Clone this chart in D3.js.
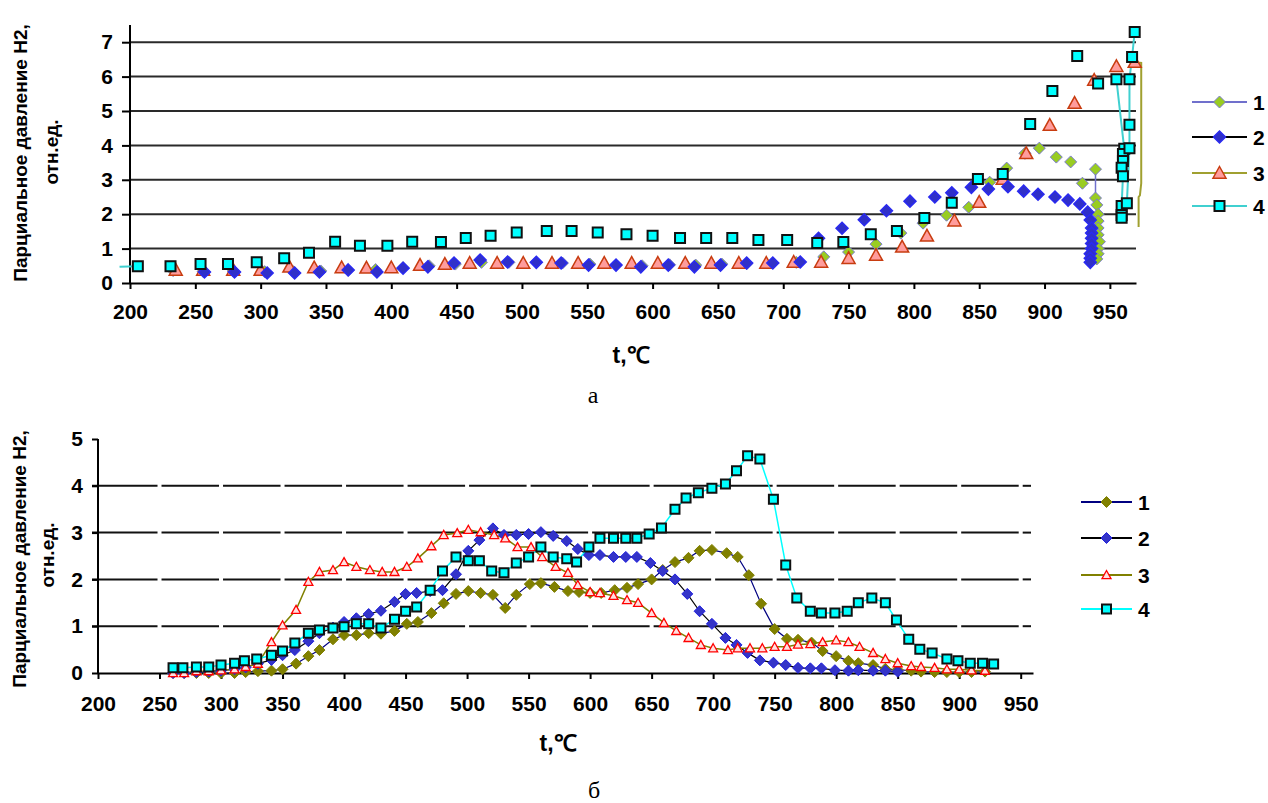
<!DOCTYPE html>
<html lang="ru">

<head>
    <meta charset="UTF-8">
    <title>Парциальное давление H2</title>
    <style>
        html,
        body {
            margin: 0;
            padding: 0;
            background: #fff;
            overflow: hidden;
        }

        text {
            font-family: 'Liberation Sans', Arial, sans-serif;
            font-weight: bold;
            fill: #000;
        }

        text.caption {
            font-family: 'Liberation Serif', 'Times New Roman', serif;
            font-weight: normal;
        }
    </style>
</head>

<body>
    <script src="https://cdn.jsdelivr.net/npm/d3@7"></script>
    <script>

        // ---------- data ----------
        const seriesNames = ['1', '2', '3', '4']
        const xTickLabels = [200, 250, 300, 350, 400, 450, 500, 550, 600, 650, 700, 750, 800, 850, 900, 950]
        const topYTicks = [0, 1, 2, 3, 4, 5, 6, 7]
        const botYTicks = [0, 1, 2, 3, 4, 5]

        // panel a: [t, p]
        const topS1 = [[233, 0.36], [256, 0.34], [279, 0.35], [303, 0.33], [325, 0.33], [346, 0.35], [367, 0.37], [388, 0.39],
        [409, 0.45], [429, 0.5], [449, 0.55], [469, 0.6], [490, 0.6], [511, 0.6], [531, 0.58], [552, 0.55], [572, 0.52],
        [592, 0.5], [613, 0.53], [633, 0.52], [653, 0.55], [672, 0.56], [692, 0.58], [710, 0.6], [731, 0.76], [750, 0.9],
        [771, 1.13], [790, 1.45], [807, 1.74], [825, 1.97], [842, 2.2], [858, 2.93], [871, 3.34], [885, 3.77], [896, 3.92],
        [909, 3.66], [920, 3.52], [929, 2.9]]
        const topS1Tail = [[939, 3.31], [939, 2.47], [940, 2.27], [941, 2.0], [941, 1.8], [941, 1.6], [941, 1.4], [942, 1.2],
        [941, 1.0], [941, 0.85], [940, 0.7]]

        const topS2 = [[257, 0.32], [280, 0.32], [305, 0.29], [326, 0.29], [345, 0.32], [367, 0.38], [389, 0.32], [409, 0.43],
        [428, 0.47], [448, 0.58], [468, 0.67], [489, 0.61], [511, 0.6], [530, 0.58], [551, 0.52], [572, 0.52], [591, 0.47],
        [612, 0.52], [632, 0.47], [652, 0.52], [672, 0.58], [692, 0.58], [713, 0.61], [727, 1.3], [745, 1.59], [762, 1.84],
        [779, 2.1], [797, 2.38], [816, 2.5], [829, 2.62], [844, 2.78], [857, 2.73], [872, 2.8], [884, 2.67], [895, 2.58],
        [908, 2.5], [918, 2.41], [927, 2.3], [933, 2.06], [935, 1.83], [936, 1.6], [936, 1.45], [936, 1.3], [936, 1.15],
        [936, 1.0], [935, 0.85], [935, 0.72], [935, 0.6]]

        const topS3 = [[235, 0.38], [256, 0.38], [279, 0.38], [300, 0.38], [322, 0.47], [341, 0.45], [362, 0.45], [381, 0.44],
        [400, 0.45], [422, 0.52], [441, 0.55], [460, 0.58], [481, 0.58], [501, 0.58], [523, 0.58], [543, 0.58], [563, 0.58],
        [584, 0.58], [604, 0.58], [625, 0.58], [645, 0.58], [666, 0.58], [687, 0.58], [708, 0.61], [729, 0.61], [750, 0.72],
        [771, 0.81], [791, 1.05], [810, 1.37], [831, 1.81], [850, 2.35], [868, 3.02], [886, 3.77], [904, 4.59], [923, 5.23],
        [938, 5.9], [955, 6.3], [969, 6.42]]
        const topS3Tail = [[969, 6.42], [974, 6.4], [974, 2.9], [973, 2.55], [972, 2.5], [972, 1.63]]

        const topS4 = [[206, 0.49], [231, 0.49], [254, 0.55], [275, 0.55], [297, 0.6], [318, 0.72], [337, 0.88], [357, 1.2],
        [376, 1.08], [397, 1.08], [416, 1.2], [438, 1.19], [457, 1.31], [476, 1.37], [496, 1.47], [519, 1.51], [538, 1.51],
        [558, 1.47], [580, 1.42], [600, 1.37], [621, 1.31], [641, 1.31], [661, 1.31], [681, 1.25], [703, 1.25], [726, 1.16],
        [746, 1.19], [767, 1.42], [787, 1.51], [808, 1.89], [829, 2.33], [849, 3.02], [868, 3.17], [889, 4.62], [906, 5.58],
        [925, 6.6], [941, 5.8]]
        const topS4Lead = [[192, 0.47], [206, 0.49]]
        const topS4Tail = [[955, 5.92], [961, 3.9], [960, 3.75], [960, 3.55], [959, 3.35], [960, 3.1], [959, 2.24], [959, 1.98],
        [959, 1.9], [963, 2.32], [965, 3.92], [965, 4.6], [965, 5.92], [967, 6.57], [969, 7.3]]

        // panel б: [t, p]
        const botS1 = [[261, 0], [270, 0], [280, 0], [290, 0], [300, 0], [311, 0], [320, 0.02], [330, 0.04], [341, 0.05],
        [350, 0.08], [361, 0.2], [371, 0.36], [380, 0.49], [391, 0.72], [400, 0.81], [410, 0.81], [420, 0.85], [430, 0.84],
        [441, 0.9], [451, 1.05], [460, 1.09], [471, 1.28], [481, 1.49], [491, 1.69], [501, 1.75], [511, 1.71], [521, 1.67],
        [531, 1.39], [540, 1.67], [551, 1.9], [560, 1.92], [571, 1.84], [582, 1.75], [591, 1.73], [600, 1.71], [609, 1.71],
        [620, 1.77], [630, 1.82], [639, 1.9], [650, 2.0], [659, 2.2], [669, 2.37], [680, 2.46], [689, 2.61], [699, 2.63],
        [711, 2.56], [720, 2.48], [729, 2.09], [739, 1.48], [750, 0.94], [760, 0.73], [769, 0.71], [780, 0.65], [789, 0.47],
        [800, 0.36], [810, 0.26], [818, 0.21], [830, 0.17], [840, 0.09], [850, 0.07], [861, 0.05], [869, 0.03], [880, 0.02],
        [890, 0.02], [900, 0.02], [910, 0.02], [921, 0.03]]

        const botS2 = [[261, 0], [270, 0], [280, 0.02], [290, 0.03], [300, 0.05], [311, 0.08], [320, 0.12], [330, 0.2],
        [341, 0.28], [350, 0.38], [360, 0.49], [371, 0.68], [380, 0.85], [391, 0.97], [400, 1.09], [410, 1.17], [420, 1.26],
        [430, 1.33], [441, 1.52], [450, 1.69], [459, 1.71], [470, 1.75], [480, 1.77], [491, 2.11], [501, 2.61], [510, 2.84],
        [521, 3.09], [530, 2.95], [540, 2.95], [550, 2.97], [560, 3.01], [570, 2.93], [581, 2.82], [590, 2.65], [599, 2.52],
        [608, 2.52], [619, 2.48], [629, 2.48], [638, 2.48], [649, 2.35], [659, 2.18], [669, 2.0], [679, 1.69], [689, 1.32],
        [699, 1.05], [710, 0.75], [719, 0.6], [728, 0.43], [738, 0.27], [749, 0.22], [759, 0.17], [769, 0.11], [779, 0.1],
        [788, 0.1], [799, 0.06], [810, 0.05], [818, 0.06], [830, 0.05], [840, 0.05], [850, 0.03]]

        const botS3 = [[261, 0], [270, 0], [280, 0.04], [290, 0.04], [300, 0.06], [311, 0.08], [320, 0.13], [330, 0.2],
        [341, 0.66], [350, 1.02], [361, 1.35], [371, 1.95], [380, 2.16], [391, 2.2], [400, 2.37], [410, 2.27], [421, 2.2],
        [431, 2.16], [441, 2.16], [451, 2.27], [460, 2.45], [471, 2.71], [481, 2.95], [492, 2.99], [501, 3.06], [511, 3.01],
        [522, 2.95], [531, 2.88], [541, 2.69], [552, 2.69], [561, 2.48], [572, 2.27], [582, 2.14], [590, 1.88], [600, 1.73],
        [608, 1.71], [619, 1.65], [630, 1.56], [639, 1.5], [650, 1.28], [660, 1.07], [670, 0.9], [680, 0.75], [690, 0.6],
        [700, 0.53], [712, 0.49], [720, 0.53], [730, 0.53], [740, 0.53], [750, 0.56], [760, 0.56], [769, 0.61], [779, 0.62],
        [789, 0.66], [800, 0.7], [810, 0.66], [819, 0.56], [830, 0.43], [840, 0.3], [850, 0.21], [861, 0.15], [869, 0.13],
        [880, 0.11], [890, 0.08], [900, 0.08], [910, 0.06], [921, 0.05]]

        const botS4 = [[261, 0.11], [269, 0.11], [280, 0.13], [290, 0.13], [300, 0.17], [311, 0.21], [319, 0.26], [329, 0.3],
        [341, 0.38], [350, 0.47], [360, 0.64], [371, 0.85], [380, 0.92], [391, 0.96], [400, 0.99], [410, 1.05], [420, 1.05],
        [430, 0.96], [441, 1.15], [450, 1.32], [459, 1.41], [470, 1.77], [480, 2.18], [491, 2.48], [501, 2.4], [510, 2.4],
        [520, 2.18], [530, 2.14], [540, 2.35], [550, 2.48], [560, 2.69], [570, 2.48], [581, 2.44], [589, 2.37], [599, 2.69],
        [608, 2.88], [619, 2.88], [629, 2.88], [638, 2.88], [648, 2.97], [658, 3.1], [669, 3.5], [678, 3.74], [688, 3.85],
        [699, 3.95], [710, 4.04], [719, 4.32], [728, 4.64], [738, 4.57], [749, 3.71], [759, 2.31], [768, 1.6], [779, 1.32],
        [788, 1.28], [799, 1.28], [809, 1.32], [818, 1.5], [829, 1.6], [840, 1.5], [849, 1.13], [859, 0.72], [868, 0.51],
        [878, 0.43], [890, 0.3], [899, 0.26], [909, 0.21], [919, 0.21], [928, 0.19]]

        // ---------- page ----------
        const width = 1268
        const height = 803

        const svg = d3.select('body')
            .append('svg')
            .attr('width', width)
            .attr('height', height)

        function markerPath(shape, r) {
            if (shape === 'diamond') return `M0,${-r}L${r},0L0,${r}L${-r},0Z`
            if (shape === 'triangle') return `M0,${-r}L${r},${r * 0.8}L${-r},${r * 0.8}Z`
            return `M${-r},${-r}H${r}V${r}H${-r}Z`
        }

        function drawMarkers(g, pts, x, y, s) {
            g.append('g')
                .selectAll('path')
                .data(pts)
                .enter()
                .append('path')
                .attr('transform', (d) => `translate(${x(d[0])},${y(d[1])})`)
                .attr('d', markerPath(s.shape, s.r))
                .attr('fill', s.fill)
                .attr('stroke', s.stroke)
                .attr('stroke-width', s.sw)
        }

        function drawPanel(p) {
            const { x, y } = p
            const g = svg.append('g')
            const line = d3.line().x((d) => x(d[0])).y((d) => y(d[1]))

            // gridlines
            if (p.brokenGrid) {
                const edges = xTickLabels.concat([x.domain()[1]])
                const segs = []
                p.yTicks.filter((v) => v > 0 && v < y.domain()[1]).forEach((v) => {
                    for (let i = 0; i < edges.length - 1; i++) segs.push({ v, a: edges[i], b: edges[i + 1], first: i === 0 })
                })
                g.selectAll('.grid')
                    .data(segs)
                    .enter()
                    .append('line')
                    .attr('class', 'grid')
                    .attr('x1', (d) => d.first ? x(d.a) - 6 : x(d.a) + 2)
                    .attr('x2', (d) => x(d.b) - 2)
                    .attr('y1', (d) => y(d.v))
                    .attr('y2', (d) => y(d.v))
                    .attr('stroke', '#111')
                    .attr('stroke-width', 2)
            } else {
                g.selectAll('.grid')
                    .data(p.yTicks.filter((v) => v > 0))
                    .enter()
                    .append('line')
                    .attr('class', 'grid')
                    .attr('x1', x.range()[0])
                    .attr('x2', x.range()[1])
                    .attr('y1', (d) => y(d))
                    .attr('y2', (d) => y(d))
                    .attr('stroke', '#2a2a2a')
                    .attr('stroke-width', 2)
            }

            // axes
            const xAxis = g.append('g')
                .attr('transform', `translate(0,${y(0)})`)
                .call(d3.axisBottom(x).tickValues(xTickLabels).tickFormat(d3.format('d'))
                    .tickSize(6).tickPadding(p.xPad).tickSizeOuter(0))
            const yAxis = g.append('g')
                .attr('transform', `translate(${x.range()[0]},0)`)
                .call(d3.axisLeft(y).tickValues(p.yTicks).tickFormat(d3.format('d'))
                    .tickSize(p.yTickSize).tickPadding(9).tickSizeOuter(0))
            for (const ax of [xAxis, yAxis]) {
                ax.attr('font-family', null).attr('font-size', null)
                ax.select('.domain').attr('stroke', '#000').attr('stroke-width', 2)
                ax.selectAll('.tick line').attr('stroke', '#000').attr('stroke-width', 2)
                ax.selectAll('.tick text').style('font-size', '21px')
            }
            yAxis.select('.domain').attr('d', `M0,${y.range()[0]}V${y.range()[1]}`)

            // lines, then markers
            p.series.forEach((s) => {
                s.lines.forEach((ln) => {
                    g.append('path')
                        .attr('d', line(ln))
                        .attr('fill', 'none')
                        .attr('stroke', s.line)
                        .attr('stroke-width', s.lw)
                })
            })
            p.order.forEach((i) => {
                const s = p.series[i]
                s.marks.forEach((m) => drawMarkers(g, m, x, y, s))
            })

            // legend
            const leg = g.append('g')
            p.series.forEach((s, i) => {
                const ly = p.legend.y[i]
                leg.append('line')
                    .attr('x1', p.legend.x1).attr('x2', p.legend.x2)
                    .attr('y1', ly).attr('y2', ly)
                    .attr('stroke', s.line).attr('stroke-width', 2)
                leg.append('path')
                    .attr('transform', `translate(${(p.legend.x1 + p.legend.x2) / 2},${ly})`)
                    .attr('d', markerPath(s.shape, s.r))
                    .attr('fill', s.fill).attr('stroke', s.stroke).attr('stroke-width', s.sw)
                leg.append('text')
                    .attr('x', p.legend.x2 + 6)
                    .attr('y', ly)
                    .attr('dy', '0.36em')
                    .style('font-size', '21px')
                    .text(seriesNames[i])
            })

            // titles
            p.yTitle.forEach((t) => {
                g.append('text')
                    .attr('transform', `translate(${t.x},${t.y}) rotate(-90)`)
                    .attr('text-anchor', 'middle')
                    .style('font-size', '19px')
                    .text(t.text)
            })
            g.append('text')
                .attr('x', p.xTitle.x).attr('y', p.xTitle.y)
                .attr('text-anchor', 'middle')
                .style('font-size', '23px')
                .text('t,℃')
            g.append('text')
                .attr('class', 'caption')
                .attr('x', p.caption.x).attr('y', p.caption.y)
                .attr('text-anchor', 'middle')
                .style('font-size', '24px')
                .text(p.caption.text)
        }

        // ---------- panel a ----------
        const topStyle = [
            { line: '#7070cc', lw: 1.5, shape: 'diamond', r: 6, fill: '#99cc22', stroke: '#7a7ad0', sw: 1 },
            { line: '#000', lw: 1, shape: 'diamond', r: 6, fill: '#3030c8', stroke: '#2a2af0', sw: 1.5 },
            { line: '#a0a030', lw: 2, shape: 'triangle', r: 6.5, fill: '#ff9c9c', stroke: '#c83c10', sw: 1.5 },
            { line: '#40d0d0', lw: 2, shape: 'square', r: 5, fill: '#00ffff', stroke: '#111', sw: 2 }
        ]
        drawPanel({
            x: d3.scaleLinear().domain([200, 970]).range([130, 1136]),
            y: d3.scaleLinear().domain([0, 7.5]).range([283, 25]),
            yTicks: topYTicks,
            yTickSize: 8,
            xPad: 15,
            brokenGrid: false,
            order: [0, 2, 1, 3],
            series: [
                Object.assign({ lines: [topS1Tail.slice(0, 2)], marks: [topS1, topS1Tail] }, topStyle[0]),
                Object.assign({ lines: [], marks: [topS2] }, topStyle[1]),
                Object.assign({ lines: [topS3Tail], marks: [topS3] }, topStyle[2]),
                Object.assign({ lines: [topS4Lead, topS4Tail], marks: [topS4, topS4Tail] }, topStyle[3])
            ],
            legend: { x1: 1192, x2: 1247, y: [102, 137, 173, 206] },
            yTitle: [
                { x: 27, y: 153, text: 'Парциальное давление Н2,' },
                { x: 58, y: 152, text: 'отн.ед.' }
            ],
            xTitle: { x: 631, y: 363 },
            caption: { x: 593, y: 403, text: 'а' }
        })

        // ---------- panel б ----------
        const botStyle = [
            { line: '#000080', lw: 1.2, shape: 'diamond', r: 5.5, fill: '#808000', stroke: '#808000', sw: 1 },
            { line: '#000', lw: 1.2, shape: 'diamond', r: 5.5, fill: '#3434c8', stroke: '#2020e0', sw: 1 },
            { line: '#808000', lw: 1.5, shape: 'triangle', r: 4.5, fill: '#ffe0e0', stroke: '#ff0000', sw: 1.3 },
            { line: '#00ffff', lw: 1.5, shape: 'square', r: 4.5, fill: '#00ffff', stroke: '#111', sw: 2 }
        ]
        drawPanel({
            x: d3.scaleLinear().domain([200, 960]).range([98, 1033]),
            y: d3.scaleLinear().domain([0, 5]).range([673, 439]),
            yTicks: botYTicks,
            yTickSize: 6,
            xPad: 17,
            brokenGrid: true,
            order: [0, 1, 2, 3],
            series: [
                Object.assign({ lines: [botS1], marks: [botS1] }, botStyle[0]),
                Object.assign({ lines: [botS2], marks: [botS2] }, botStyle[1]),
                Object.assign({ lines: [botS3], marks: [botS3] }, botStyle[2]),
                Object.assign({ lines: [botS4], marks: [botS4] }, botStyle[3])
            ],
            legend: { x1: 1081, x2: 1132, y: [502, 538, 575, 609] },
            yTitle: [
                { x: 26, y: 559, text: 'Парциальное давление Н2,' },
                { x: 54, y: 555, text: 'отн.ед.' }
            ],
            xTitle: { x: 558, y: 751 },
            caption: { x: 594, y: 798, text: 'б' }
        })

    </script>
</body>

</html>
